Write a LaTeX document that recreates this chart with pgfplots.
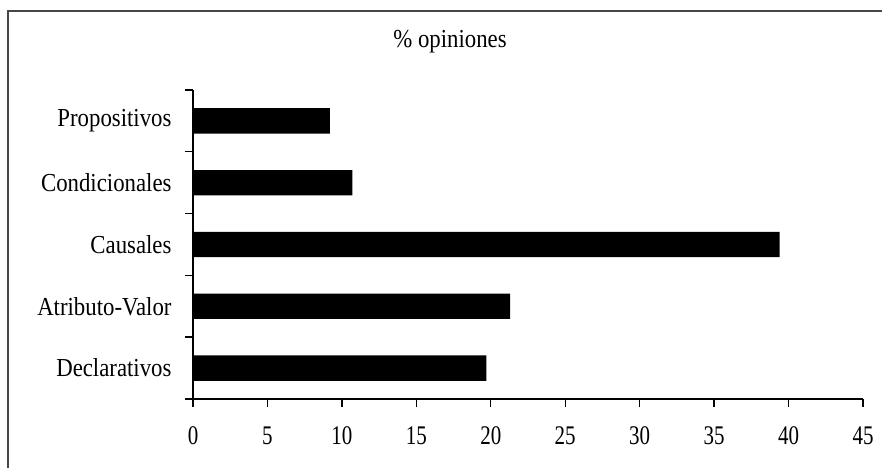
\documentclass[border=0pt]{standalone}
\usepackage{fontspec}
\setmainfont{Liberation Serif}
\newfontfamily\condfont{Liberation Serif}[FakeStretch=0.88]
\newfontfamily\numfont{Liberation Serif}[FakeStretch=0.78]
\usepackage{pgfplots}
\pgfplotsset{compat=1.18}
\begin{document}
\begin{tikzpicture}[x=1bp,y=1bp]
\path[use as bounding box] (0,0) rectangle (882,468);
\draw[line width=2.2bp, color=black!72] (8,0) -- (8,457) -- (882,457);
\node[font=\condfont\fontsize{26}{30}\selectfont] at (450,426) {\% opiniones};
\begin{axis}[
  at={(193bp,69bp)}, anchor=south west,
  scale only axis, width=670bp, height=309bp,
  xmin=0, xmax=45, ymin=-0.5, ymax=4.5,
  axis x line*=bottom, axis y line*=left,
  axis line style={line width=1.4bp, -},
  xtick={0,5,...,45},
  ytick={-0.5,0.5,1.5,2.5,3.5,4.5},
  yticklabels={},
  extra y ticks={0,1,2,3,4},
  extra y tick labels={Declarativos,Atributo-Valor,Causales,Condicionales,Propositivos},
  extra y tick style={tick style={draw=none}},
  tick align=outside,
  major tick length=8bp,
  tick style={line width=1.4bp, black},
  /pgf/number format/assume math mode=true,
  xticklabel style={font=\numfont\fontsize{27}{30}\selectfont, yshift=-16bp},
  yticklabel style={font=\condfont\fontsize{26}{30}\selectfont, xshift=-10bp},
]
\addplot[xbar, fill=black, draw=none, bar width=0.41]
  coordinates {(19.7,0) (21.3,1) (39.4,2) (10.7,3) (9.2,4)};
\end{axis}
\end{tikzpicture}
\end{document}
